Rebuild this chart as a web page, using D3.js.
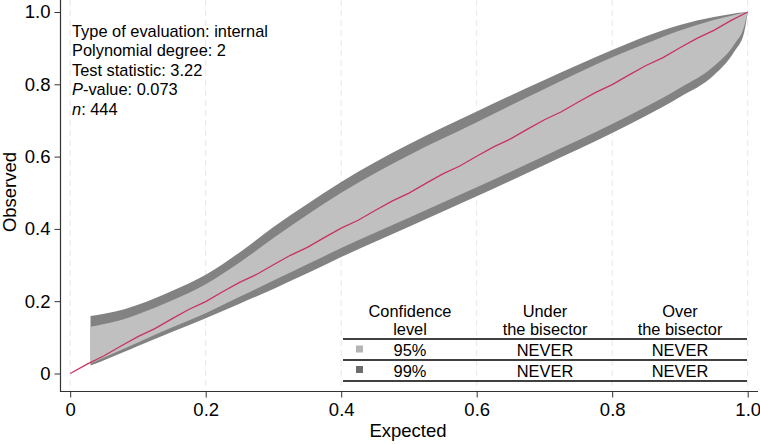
<!DOCTYPE html>
<html>
<head>
<meta charset="utf-8">
<script src="https://cdn.jsdelivr.net/npm/d3@7"></script>
<style>
  body { margin: 0; background: #fff; }
  svg text { font-family: "Liberation Sans", Arial, sans-serif; fill: #000; }
</style>
</head>
<body>
<svg id="chart" width="760" height="444"></svg>
<script>
// band edges (expected -> observed)
var bandX   = [0.03, 0.05, 0.08, 0.1, 0.15, 0.2, 0.25, 0.3, 0.35, 0.4, 0.5, 0.6, 0.7, 0.8, 0.85, 0.9, 0.95, 0.98, 0.995, 1.0];
var upper99 = [0.159, 0.165, 0.178, 0.19, 0.228, 0.273, 0.335, 0.405, 0.469, 0.53, 0.634, 0.725, 0.812, 0.895, 0.933, 0.964, 0.986, 0.996, 0.999, 1.0];
var upper95 = [0.129, 0.137, 0.151, 0.164, 0.202, 0.247, 0.307, 0.375, 0.439, 0.5, 0.604, 0.695, 0.787, 0.875, 0.913, 0.949, 0.978, 0.992, 0.998, 1.0];
var lower95 = [0.028, 0.044, 0.069, 0.086, 0.127, 0.167, 0.212, 0.257, 0.302, 0.347, 0.431, 0.515, 0.602, 0.69, 0.738, 0.79, 0.85, 0.91, 0.962, 1.0];
var lower99 = [0.022, 0.037, 0.06, 0.076, 0.115, 0.153, 0.193, 0.234, 0.277, 0.322, 0.406, 0.49, 0.577, 0.665, 0.713, 0.765, 0.825, 0.89, 0.945, 1.0];

// calibration curve (red)
var curveX = [0, 0.025, 0.05, 0.075, 0.1, 0.125, 0.15, 0.175, 0.2, 0.225, 0.25, 0.275, 0.3, 0.325, 0.35, 0.375, 0.4, 0.425, 0.45, 0.475, 0.5,
              0.525, 0.55, 0.575, 0.6, 0.625, 0.65, 0.675, 0.7, 0.725, 0.75, 0.775, 0.8, 0.825, 0.85, 0.875, 0.9, 0.925, 0.95, 0.975, 1];
var curveY = [0, 0.026, 0.049, 0.076, 0.102, 0.124, 0.151, 0.177, 0.199, 0.226, 0.252, 0.274, 0.301, 0.327, 0.349, 0.376, 0.402, 0.424, 0.451, 0.477, 0.499,
              0.526, 0.552, 0.574, 0.601, 0.627, 0.649, 0.676, 0.702, 0.724, 0.751, 0.777, 0.799, 0.826, 0.852, 0.874, 0.901, 0.927, 0.949, 0.976, 1];

var ticks = [0, 0.2, 0.4, 0.6, 0.8, 1.0];
var infoLines = [
  ["", "Type of evaluation: internal"],
  ["", "Polynomial degree: 2"],
  ["", "Test statistic: 3.22"],
  ["P", "-value: 0.073"],
  ["n", ": 444"]
];
var tableHeader = [["Confidence", "level"], ["Under", "the bisector"], ["Over", "the bisector"]];
var tableLevels = ["95%", "99%"];
var tableUnder = ["NEVER", "NEVER"];
var tableOver = ["NEVER", "NEVER"];

var svg = d3.select('#chart');
var x = d3.scaleLinear().domain([0, 1]).range([70.2, 747.7]);
var y = d3.scaleLinear().domain([0, 1]).range([373.5, 12]);
var plotTop = 0, plotBottom = 391.5, plotLeft = 60.5, plotRight = 758;

// vertical grid
svg.append('g').selectAll('line').data(ticks).enter().append('line')
  .attr('x1', function(d) { return x(d); }).attr('x2', function(d) { return x(d); })
  .attr('y1', plotTop).attr('y2', plotBottom)
  .attr('stroke', '#e8e8e8').attr('stroke-width', 1).attr('stroke-dasharray', '6,4');

// bands
var idx = d3.range(bandX.length);
var band = function(lo, hi) {
  return d3.area()
    .x(function(i) { return x(bandX[i]); })
    .y0(function(i) { return y(lo[i]); })
    .y1(function(i) { return y(hi[i]); })
    .curve(d3.curveMonotoneX);
};
svg.append('path').datum(idx).attr('d', band(lower99, upper99)).attr('fill', '#828282');
svg.append('path').datum(idx).attr('d', band(lower95, upper95)).attr('fill', '#c0c0c0');

// red line
svg.append('path').datum(d3.range(curveX.length))
  .attr('d', d3.line().x(function(i) { return x(curveX[i]); }).y(function(i) { return y(curveY[i]); }))
  .attr('fill', 'none').attr('stroke', '#c8325f').attr('stroke-width', 1.3);

// axes
var fmt = function(d) { return d === 0 ? '0' : d3.format('.1f')(d); };
var xAxis = svg.append('g').attr('transform', 'translate(0,' + plotBottom + ')')
  .call(d3.axisBottom(x).tickValues(ticks).tickFormat(fmt).tickSize(6).tickPadding(5).tickSizeOuter(0));
var yAxis = svg.append('g').attr('transform', 'translate(' + plotLeft + ',0)')
  .call(d3.axisLeft(y).tickValues(ticks).tickFormat(fmt).tickSize(6).tickPadding(4).tickSizeOuter(0));
[xAxis, yAxis].forEach(function(a) {
  a.select('.domain').remove();
  a.selectAll('line').attr('stroke', '#333').attr('stroke-width', 1);
  a.selectAll('text').attr('font-size', '18.5px').attr('fill', '#000');
});
svg.append('line').attr('x1', plotLeft).attr('x2', plotLeft).attr('y1', plotTop).attr('y2', plotBottom + 0.5)
  .attr('stroke', '#333').attr('stroke-width', 1.2);
svg.append('line').attr('x1', plotLeft).attr('x2', plotRight).attr('y1', plotBottom).attr('y2', plotBottom)
  .attr('stroke', '#333').attr('stroke-width', 1.2);

svg.append('text').attr('x', 408).attr('y', 437).attr('text-anchor', 'middle')
  .attr('font-size', '18.5px').text('Expected');
svg.append('text').attr('transform', 'translate(16,192) rotate(-90)').attr('text-anchor', 'middle')
  .attr('font-size', '18.5px').text('Observed');

// info text
var info = svg.append('g');
infoLines.forEach(function(l, i) {
  var t = info.append('text').attr('x', 72).attr('y', 36.5 + i * 19.6).attr('font-size', '16.4px');
  if (l[0]) t.append('tspan').attr('font-style', 'italic').text(l[0]);
  t.append('tspan').text(l[1]);
});

// table
var colX = [410, 545, 680];
var tbl = svg.append('g').attr('font-size', '16.4px');
tableHeader.forEach(function(h, i) {
  tbl.append('text').attr('x', colX[i]).attr('y', 317).attr('text-anchor', 'middle').text(h[0]);
  tbl.append('text').attr('x', colX[i]).attr('y', 335).attr('text-anchor', 'middle').text(h[1]);
});
[339, 360, 381].forEach(function(ly) {
  tbl.append('line').attr('x1', 343).attr('x2', 747).attr('y1', ly).attr('y2', ly)
    .attr('stroke', '#000').attr('stroke-width', 1.4);
});
var sqColors = ['#b4b4b4', '#6c6c6c'];
tableLevels.forEach(function(lv, i) {
  var by = 356 + i * 20.5;
  tbl.append('rect').attr('x', 356).attr('y', by - 10.5).attr('width', 7).attr('height', 7).attr('fill', sqColors[i]);
  tbl.append('text').attr('x', colX[0]).attr('y', by).attr('text-anchor', 'middle').text(lv);
  tbl.append('text').attr('x', colX[1]).attr('y', by).attr('text-anchor', 'middle').text(tableUnder[i]);
  tbl.append('text').attr('x', colX[2]).attr('y', by).attr('text-anchor', 'middle').text(tableOver[i]);
});
</script>
</body>
</html>
